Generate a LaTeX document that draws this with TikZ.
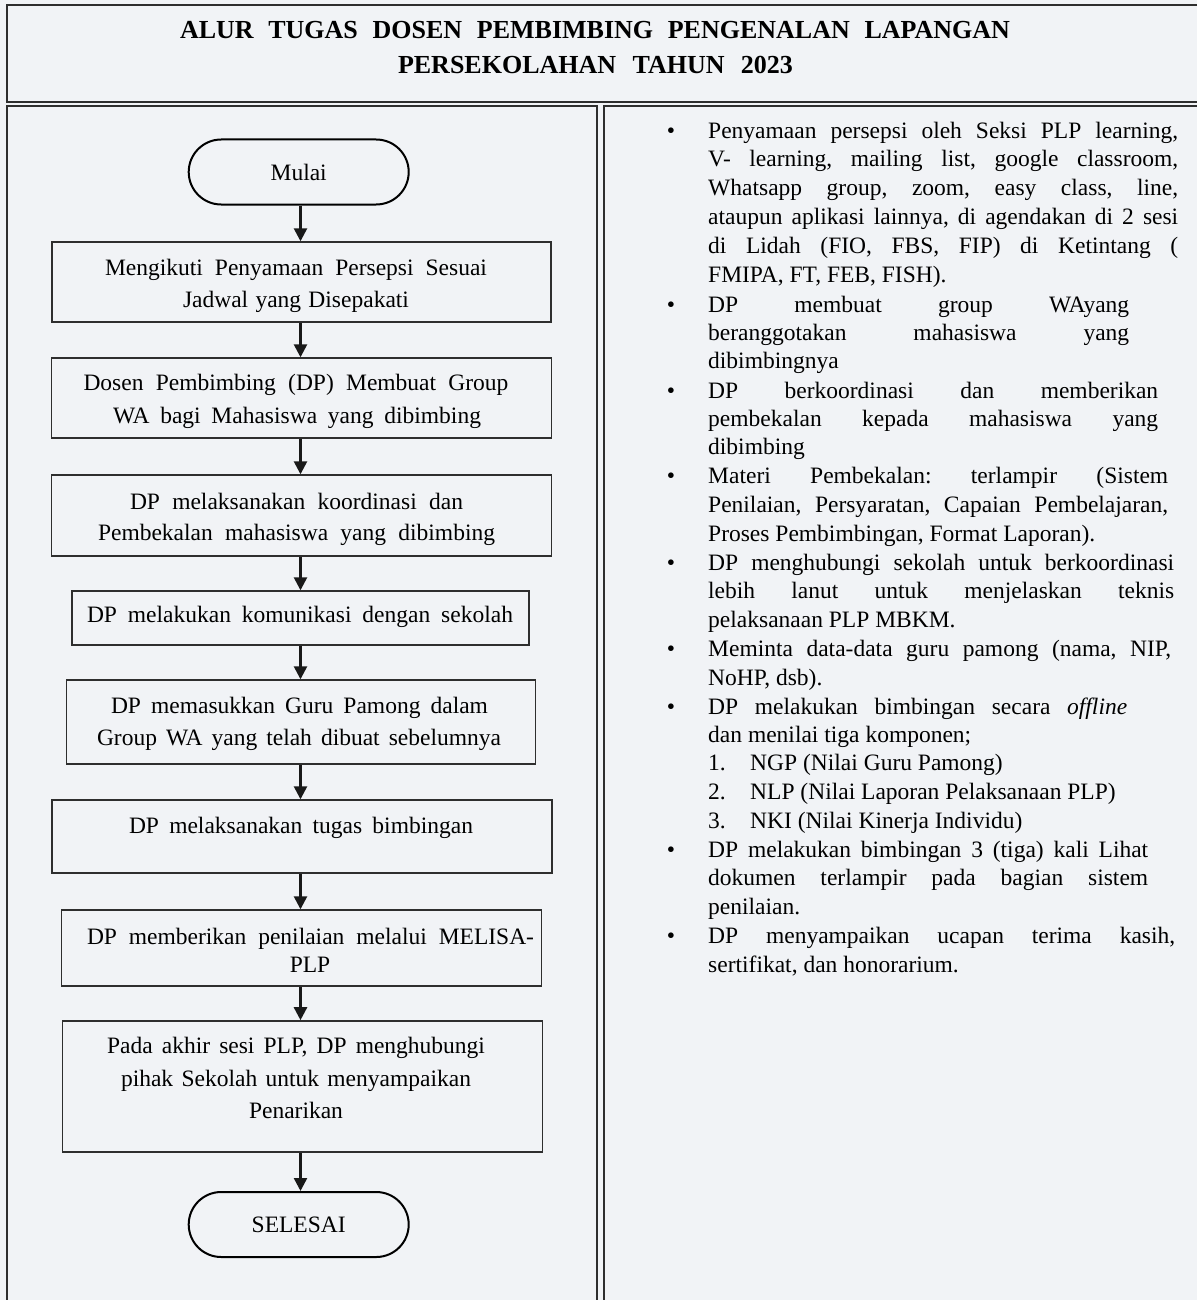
\documentclass[tikz,border=0pt]{standalone}
\usepackage{fontspec}
\setmainfont{Liberation Serif}
\usetikzlibrary{arrows.meta,shapes.misc}
\definecolor{bg}{HTML}{F1F3F6}
\definecolor{frame}{HTML}{2E2E2E}
\newcommand{\bodyfont}{\fontsize{23.5}{28}\selectfont\frenchspacing}
\newcommand{\RJ}[4]{\node[rtxt] (#1) at (708,#2) {\makebox[#3pt][s]{#4}};}
\newcommand{\RL}[4]{\node[rtxt] (#1) at (#2,#3) {#4};}
\newcommand{\RB}[2]{\node[txt] (#1) at (671,#2) {•};}
\newcommand{\LC}[5]{\node[txt] (#1) at (#2,#3) {\makebox[#4pt][s]{#5}};}
\begin{document}
\begin{tikzpicture}[x=1pt,y=-1pt,
  box/.style={draw=frame, line width=1.4pt, inner sep=0pt},
  term/.style={draw=black, line width=2pt, rounded rectangle, inner sep=0pt,
    minimum width=220pt, minimum height=65pt, font=\bodyfont},
  txt/.style={font=\bodyfont, inner sep=0pt, anchor=base},
  rtxt/.style={font=\bodyfont, inner sep=0pt, anchor=base west},
  ttl/.style={font=\fontsize{26}{30}\selectfont\bfseries, inner sep=0pt, anchor=base},
  flow/.style={draw=black!90, line width=2.5pt, -{Triangle[width=13pt,length=13pt]}},
  panel/.style={draw=frame, line width=1.3pt}]
\useasboundingbox (0,0) rectangle (1197,1300);
\fill[bg] (0,0) rectangle (1197,1300);
% frames
\draw[panel] (1197,5) -- (7,5) -- (7,102) -- (1197,102);
\draw[panel] (7,1300) -- (7,106) -- (597,106) -- (597,1300);
\draw[panel] (604,1300) -- (604,106) -- (1197,106);
% title
\node[ttl] (title1) at (595,39) {\makebox[830pt][s]{ALUR  TUGAS  DOSEN  PEMBIMBING  PENGENALAN  LAPANGAN}};
\node[ttl] (title2) at (595.5,73.5) {\makebox[395pt][s]{PERSEKOLAHAN  TAHUN  2023}};
% flowchart
\coordinate (ax) at (300.5,0);
\node[term] (start) at (298.7,172) {Mulai};
\node[box, minimum width=499pt, minimum height=80pt] (b1) at (301.5,282) {};
\node[box, minimum width=500pt, minimum height=80pt] (b2) at (301.7,398) {};
\node[box, minimum width=500pt, minimum height=81pt] (b3) at (301.7,515.5) {};
\node[box, minimum width=457pt, minimum height=54pt] (b4) at (300.4,618) {};
\node[box, minimum width=469pt, minimum height=84pt] (b5) at (300.7,722) {};
\node[box, minimum width=500pt, minimum height=73pt] (b6) at (302,836.5) {};
\node[box, minimum width=480pt, minimum height=76pt] (b7) at (301.7,948) {};
\node[box, minimum width=480pt, minimum height=131pt] (b8) at (302.5,1086.4) {};
\node[term] (stop) at (298.7,1224.5) {SELESAI};
% box texts
\LC{t1a}{296}{275}{382}{Mengikuti Penyamaan Persepsi Sesuai}
\LC{t1b}{296}{307}{226}{Jadwal yang Disepakati}
\LC{t2a}{296}{390}{425}{Dosen Pembimbing (DP) Membuat Group}
\LC{t2b}{297}{423}{368}{WA bagi Mahasiswa yang dibimbing}
\LC{t3a}{296.5}{509}{333}{DP melaksanakan koordinasi dan}
\LC{t3b}{296.5}{540}{397}{Pembekalan mahasiswa yang dibimbing}
\LC{t4}{300}{622}{426}{DP melakukan komunikasi dengan sekolah}
\LC{t5a}{299.5}{713}{377}{DP memasukkan Guru Pamong dalam}
\LC{t5b}{299}{745}{404}{Group WA yang telah dibuat sebelumnya}
\LC{t6}{301}{833}{344}{DP melaksanakan tugas bimbingan}
\LC{t7a}{310.5}{944}{447}{DP memberikan penilaian melalui MELISA-}
\node[txt] (t7b) at (310,972) {PLP};
\LC{t8a}{296}{1053}{378}{Pada akhir sesi PLP, DP menghubungi}
\LC{t8b}{296}{1086}{350}{pihak Sekolah untuk menyampaikan}
\node[txt] (t8c) at (296,1118) {Penarikan};
% arrows
\draw[flow] (start.south -| ax) -- (b1.north -| ax);
\draw[flow] (b1.south -| ax) -- (b2.north -| ax);
\draw[flow] (b2.south -| ax) -- (b3.north -| ax);
\draw[flow] (b3.south -| ax) -- (b4.north -| ax);
\draw[flow] (b4.south -| ax) -- (b5.north -| ax);
\draw[flow] (b5.south -| ax) -- (b6.north -| ax);
\draw[flow] (b6.south -| ax) -- (b7.north -| ax);
\draw[flow] (b7.south -| ax) -- (b8.north -| ax);
\draw[flow] (b8.south -| ax) -- (stop.north -| ax);
% right column
\RB{u1}{139}
\RJ{r1}{139}{470}{Penyamaan persepsi oleh Seksi PLP learning,}
\RJ{r2}{167}{470}{V- learning, mailing list, google classroom,}
\RJ{r3}{196}{470}{Whatsapp group, zoom, easy class, line,}
\RJ{r4}{224}{470}{ataupun aplikasi lainnya, di agendakan di 2 sesi}
\RJ{r5}{253}{470}{di Lidah (FIO, FBS, FIP) di Ketintang (}
\RL{r6}{708}{282}{FMIPA, FT, FEB, FISH).}
\RB{u2}{312}
\RJ{r7}{312}{421}{DP membuat group WAyang}
\RJ{r8}{340}{421}{beranggotakan mahasiswa yang}
\RL{r9}{708}{368}{dibimbingnya}
\RB{u3}{398}
\RJ{r10}{398}{450}{DP berkoordinasi dan memberikan}
\RJ{r11}{426}{450}{pembekalan kepada mahasiswa yang}
\RL{r12}{708}{454}{dibimbing}
\RB{u4}{483}
\RJ{r13}{483}{460}{Materi Pembekalan: terlampir (Sistem}
\RJ{r14}{512}{460}{Penilaian, Persyaratan, Capaian Pembelajaran,}
\RL{r15}{708}{541}{Proses Pembimbingan, Format Laporan).}
\RB{u5}{570}
\RJ{r16}{570}{466}{DP menghubungi sekolah untuk berkoordinasi}
\RJ{r17}{598}{466}{lebih lanut untuk menjelaskan teknis}
\RL{r18}{708}{627}{pelaksanaan PLP MBKM.}
\RB{u6}{656}
\RJ{r19}{656}{463}{Meminta data-data guru pamong (nama, NIP,}
\RL{r20}{708}{685}{NoHP, dsb).}
\RB{u7}{714}
\RJ{r21}{714}{419}{DP melakukan bimbingan secara \textit{offline}}
\RL{r22}{708}{742}{dan menilai tiga komponen;}
\RL{n1}{708}{770}{1.}
\RL{r23}{750}{770}{NGP (Nilai Guru Pamong)}
\RL{n2}{708}{799}{2.}
\RL{r24}{750}{799}{NLP (Nilai Laporan Pelaksanaan PLP)}
\RL{n3}{708}{828}{3.}
\RL{r25}{750}{828}{NKI (Nilai Kinerja Individu)}
\RB{u8}{857}
\RJ{r26}{857}{440}{DP melakukan bimbingan 3 (tiga) kali Lihat}
\RJ{r27}{885}{440}{dokumen terlampir pada bagian sistem}
\RL{r28}{708}{914}{penilaian.}
\RB{u9}{943}
\RJ{r29}{943}{467}{DP menyampaikan ucapan terima kasih,}
\RL{r30}{708}{972}{sertifikat, dan honorarium.}
\end{tikzpicture}
\end{document}
